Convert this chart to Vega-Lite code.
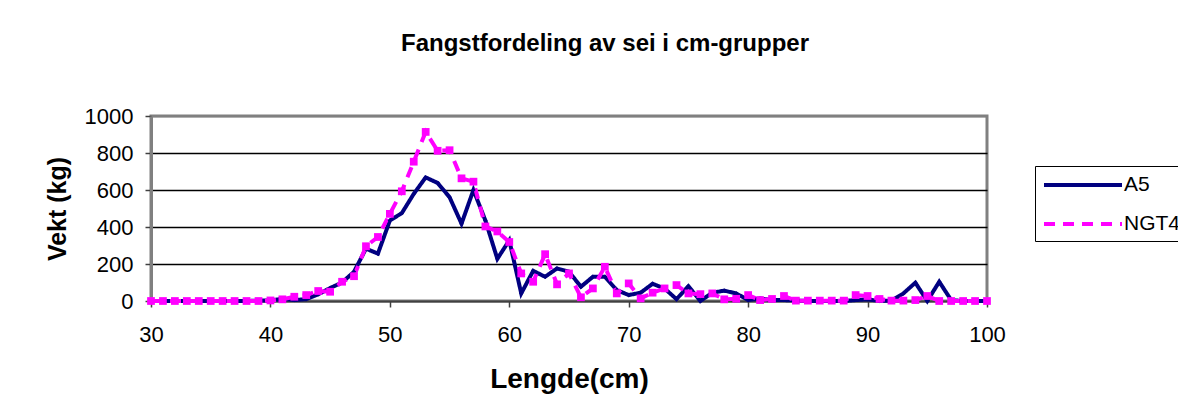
{
  "$schema": "https://vega.github.io/schema/vega-lite/v6.json",
  "autosize": "none",
  "width": 836,
  "height": 185,
  "padding": {"left": 151, "top": 116, "right": 191, "bottom": 116},
  "background": "white",
  "config": {
    "font": "Liberation Sans",
    "view": {"stroke": "#808080", "strokeWidth": 3, "fill": "white"},
    "axis": {"labelColor": "black", "titleColor": "black", "labelFont": "Liberation Sans", "titleFont": "Liberation Sans"},
    "legend": {
      "orient": "none", "legendX": 884, "legendY": 50,
      "strokeColor": "black", "fillColor": "white", "padding": 7,
      "symbolType": "M-1,0H6.8", "symbolSize": 400, "symbolStrokeWidth": 4,
      "labelFontSize": 21, "labelColor": "black", "labelOffset": 58, "rowPadding": 17
    }
  },
  "title": {
    "text": "Fangstfordeling av sei i cm-grupper",
    "fontSize": 24, "fontWeight": "bold", "color": "black",
    "anchor": "middle", "frame": "group", "dx": 36, "offset": 49
  },
  "data": {
    "values": [
      {"len": 30, "A5": 0, "NGT4": 0},
      {"len": 31, "A5": 0, "NGT4": 0},
      {"len": 32, "A5": 0, "NGT4": 0},
      {"len": 33, "A5": 0, "NGT4": 0},
      {"len": 34, "A5": 0, "NGT4": 0},
      {"len": 35, "A5": 0, "NGT4": 0},
      {"len": 36, "A5": 0, "NGT4": 0},
      {"len": 37, "A5": 0, "NGT4": 0},
      {"len": 38, "A5": 0, "NGT4": 0},
      {"len": 39, "A5": 2, "NGT4": 0},
      {"len": 40, "A5": 3, "NGT4": 3},
      {"len": 41, "A5": 12, "NGT4": 9},
      {"len": 42, "A5": 5, "NGT4": 23},
      {"len": 43, "A5": 10, "NGT4": 32},
      {"len": 44, "A5": 36, "NGT4": 54},
      {"len": 45, "A5": 70, "NGT4": 50},
      {"len": 46, "A5": 100, "NGT4": 104},
      {"len": 47, "A5": 158, "NGT4": 134},
      {"len": 48, "A5": 283, "NGT4": 296},
      {"len": 49, "A5": 256, "NGT4": 346},
      {"len": 50, "A5": 435, "NGT4": 471},
      {"len": 51, "A5": 475, "NGT4": 593},
      {"len": 52, "A5": 579, "NGT4": 753},
      {"len": 53, "A5": 668, "NGT4": 914},
      {"len": 54, "A5": 638, "NGT4": 812},
      {"len": 55, "A5": 561, "NGT4": 815},
      {"len": 56, "A5": 418, "NGT4": 663},
      {"len": 57, "A5": 600, "NGT4": 645},
      {"len": 58, "A5": 435, "NGT4": 403},
      {"len": 59, "A5": 228, "NGT4": 376},
      {"len": 60, "A5": 328, "NGT4": 319},
      {"len": 61, "A5": 41, "NGT4": 149},
      {"len": 62, "A5": 163, "NGT4": 104},
      {"len": 63, "A5": 131, "NGT4": 253},
      {"len": 64, "A5": 176, "NGT4": 90},
      {"len": 65, "A5": 158, "NGT4": 149},
      {"len": 66, "A5": 77, "NGT4": 20},
      {"len": 67, "A5": 131, "NGT4": 68},
      {"len": 68, "A5": 131, "NGT4": 185},
      {"len": 69, "A5": 59, "NGT4": 41},
      {"len": 70, "A5": 32, "NGT4": 95},
      {"len": 71, "A5": 45, "NGT4": 14},
      {"len": 72, "A5": 93, "NGT4": 45},
      {"len": 73, "A5": 68, "NGT4": 68},
      {"len": 74, "A5": 10, "NGT4": 86},
      {"len": 75, "A5": 80, "NGT4": 41},
      {"len": 76, "A5": 0, "NGT4": 37},
      {"len": 77, "A5": 45, "NGT4": 41},
      {"len": 78, "A5": 56, "NGT4": 9},
      {"len": 79, "A5": 41, "NGT4": 12},
      {"len": 80, "A5": 5, "NGT4": 32},
      {"len": 81, "A5": 14, "NGT4": 5},
      {"len": 82, "A5": 5, "NGT4": 11},
      {"len": 83, "A5": 5, "NGT4": 27},
      {"len": 84, "A5": 3, "NGT4": 2},
      {"len": 85, "A5": 0, "NGT4": 2},
      {"len": 86, "A5": 0, "NGT4": 2},
      {"len": 87, "A5": 0, "NGT4": 2},
      {"len": 88, "A5": 0, "NGT4": 2},
      {"len": 89, "A5": 5, "NGT4": 32},
      {"len": 90, "A5": 9, "NGT4": 27},
      {"len": 91, "A5": 0, "NGT4": 11},
      {"len": 92, "A5": 2, "NGT4": 2},
      {"len": 93, "A5": 41, "NGT4": 2},
      {"len": 94, "A5": 99, "NGT4": 5},
      {"len": 95, "A5": 0, "NGT4": 27},
      {"len": 96, "A5": 104, "NGT4": 0},
      {"len": 97, "A5": 5, "NGT4": 0},
      {"len": 98, "A5": 0, "NGT4": 0},
      {"len": 99, "A5": 0, "NGT4": 0},
      {"len": 100, "A5": 0, "NGT4": 0}
    ]
  },
  "transform": [{"fold": ["A5", "NGT4"], "as": ["series", "kg"]}],
  "encoding": {
    "x": {
      "field": "len", "type": "quantitative",
      "scale": {"domain": [30, 100], "nice": false, "zero": false},
      "axis": {
        "title": "Lengde(cm)", "values": [30, 40, 50, 60, 70, 80, 90, 100],
        "grid": false, "domainColor": "#404040", "domainWidth": 2,
        "tickColor": "#404040", "tickSize": 6, "tickWidth": 1.5,
        "labelFontSize": 22, "labelPadding": 17, "labelFlush": false,
        "titleFontSize": 28, "titleFontWeight": "bold", "titlePadding": 20
      }
    },
    "y": {
      "field": "kg", "type": "quantitative",
      "scale": {"domain": [0, 1000], "nice": false},
      "axis": {
        "title": "Vekt (kg)", "values": [0, 200, 400, 600, 800, 1000], "format": "d",
        "grid": true,
        "gridColor": {"condition": {"test": "datum.value >= 1000 || datum.value <= 0", "value": "#808080"}, "value": "black"},
        "gridWidth": 1.5,
        "domainColor": "#808080", "domainWidth": 3,
        "tickColor": "#404040", "tickSize": 6, "tickWidth": 1.5,
        "labelFontSize": 22, "labelPadding": 12, "labelFlush": false,
        "titleFontSize": 25, "titleFontWeight": "bold", "titlePadding": 14
      }
    }
  },
  "layer": [
    {
      "mark": {"type": "line", "strokeWidth": 4},
      "encoding": {
        "color": {
          "field": "series", "type": "nominal",
          "scale": {"domain": ["A5", "NGT4"], "range": ["#000080", "#FF00FF"]},
          "legend": {"title": null}
        },
        "strokeDash": {
          "field": "series", "type": "nominal",
          "scale": {"domain": ["A5", "NGT4"], "range": [[1, 0], [11, 8]]},
          "legend": {"title": null}
        }
      }
    },
    {
      "transform": [{"filter": "datum.series == 'A5'"}],
      "mark": {"type": "point", "filled": true, "opacity": 1, "shape": "diamond", "size": 20, "color": "#000080"}
    },
    {
      "transform": [{"filter": "datum.series == 'NGT4'"}],
      "mark": {"type": "point", "filled": true, "opacity": 1, "shape": "square", "size": 60, "color": "#FF00FF"}
    }
  ]
}
